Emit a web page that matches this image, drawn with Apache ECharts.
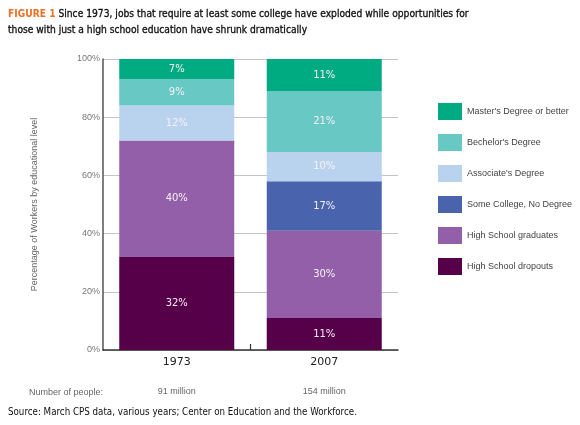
<!DOCTYPE html>
<html>
<head>
<meta charset="utf-8">
<script src="https://cdn.jsdelivr.net/npm/echarts@6/dist/echarts.min.js"></script>
<style>
  html, body { margin: 0; padding: 0; background: #fff; }
  #chart { width: 580px; height: 425px; }
</style>
</head>
<body>
<div id="chart"></div>
<script>
// data
var years = ['1973', '2007'];
var people = ['91 million', '154 million'];
var yTicks = [0, 20, 40, 60, 80, 100];

var levels = ['High School dropouts', 'High School graduates', 'Some College, No Degree',
  "Associate's Degree", "Bechelor's Degree", "Master's Degree or better"];
var dropouts = [32, 11];
var hsGrads = [40, 30];
var someCollege = [0, 17];
var associates = [12, 10];
var bachelors = [9, 21];
var masters = [7, 11];
var colors = ['#56004a', '#935fa8', '#4a63ad', '#b9d3ee', '#67c8c4', '#00ab82'];

var values = [dropouts, hsGrads, someCollege, associates, bachelors, masters];

var font = 'DejaVu Sans Condensed, sans-serif';

var myChart = echarts.init(document.getElementById('chart'));

var series = levels.map(function (name, i) {
  return {
    name: name,
    type: 'bar',
    stack: 'total',
    barWidth: 115,
    data: values[i],
    itemStyle: { color: colors[i] },
    label: {
      show: true,
      position: 'inside',
      color: '#f6f0f6',
      fontFamily: 'DejaVu Sans',
      fontSize: 10,
      formatter: function (p) { return p.value > 0 ? p.value + '%' : ''; }
    }
  };
});

myChart.setOption({
  animation: false,
  title: {
    left: 8,
    top: 6,
    padding: 0,
    text: '{fig|FIGURE 1} Since 1973, jobs that require at least some college have exploded while opportunities for\nthose with just a high school education have shrunk dramatically',
    textStyle: {
      fontFamily: font,
      fontSize: 10.2,
      fontWeight: 'normal',
      color: '#111',
      textBorderColor: '#111',
      textBorderWidth: 0.3,
      lineHeight: 16,
      rich: {
        fig: { color: '#ec6f22', fontWeight: 'bold', fontSize: 10.2, fontFamily: font,
          textBorderColor: '#ec6f22', textBorderWidth: 0 }
      }
    }
  },
  legend: {
    orient: 'vertical',
    left: 433,
    top: 98,
    itemWidth: 24,
    itemHeight: 17,
    itemGap: 14,
    icon: 'rect',
    selectedMode: false,
    data: levels.slice().reverse(),
    textStyle: { fontFamily: 'sans-serif', fontSize: 9, color: '#444' }
  },
  grid: { left: 103, right: 182, top: 59, bottom: 75 },
  xAxis: {
    type: 'category',
    data: years,
    axisLine: { lineStyle: { color: '#333', width: 1.5 } },
    axisTick: { show: false },
    axisLabel: {
      margin: 5,
      formatter: function (v, i) { return '{yr|' + v + '}\n{np|' + people[i] + '}'; },
      rich: {
        yr: { fontFamily: 'DejaVu Sans', fontSize: 11, color: '#222', lineHeight: 14 },
        np: { fontFamily: 'sans-serif', fontSize: 9, color: '#666', lineHeight: 46 }
      }
    }
  },
  yAxis: {
    type: 'value',
    min: 0,
    max: 100,
    interval: 20,
    name: 'Percentage of Workers by educational level',
    nameLocation: 'middle',
    nameGap: 64,
    nameTextStyle: { fontFamily: 'sans-serif', fontSize: 9, color: '#666' },
    axisLine: { show: true, lineStyle: { color: '#555', width: 1.5 } },
    axisTick: { show: false },
    splitLine: { lineStyle: { color: '#c4c4c4' } },
    axisLabel: {
      margin: 3,
      fontFamily: 'sans-serif',
      fontSize: 9,
      color: '#777',
      formatter: function (v) { return yTicks.indexOf(v) >= 0 ? v + '%' : ''; }
    }
  },
  series: series
});

// separator tick between the two years, placed from the axis scale
var p0 = myChart.convertToPixel({ gridIndex: 0 }, [years[0], 0]);
var p1 = myChart.convertToPixel({ gridIndex: 0 }, [years[1], 0]);
var midX = (p0[0] + p1[0]) / 2;

myChart.setOption({
  graphic: [
    { type: 'line', shape: { x1: midX, y1: p0[1], x2: midX, y2: p0[1] - 6 }, style: { stroke: '#333', lineWidth: 1.2 } },
    { type: 'text', left: 29, top: 388, style: { text: 'Number of people:', fontFamily: 'sans-serif', fontSize: 9, fill: '#666' } },
    { type: 'text', left: 8, top: 407, style: { text: 'Source: March CPS data, various years; Center on Education and the Workforce.', fontFamily: font, fontSize: 9.7, fill: '#111' } }
  ]
});
</script>
</body>
</html>
